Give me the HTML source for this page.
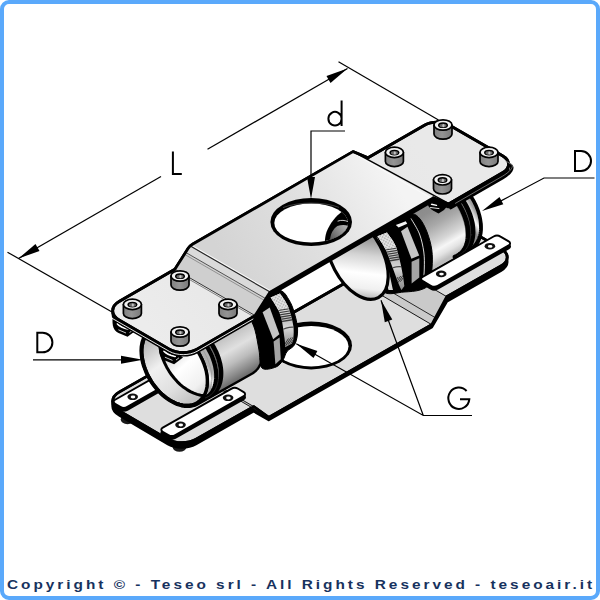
<!DOCTYPE html>
<html><head><meta charset="utf-8"><title>Teseo</title>
<style>
html,body{margin:0;padding:0;background:#fff;}
body{width:600px;height:600px;overflow:hidden;position:relative;font-family:"Liberation Sans",sans-serif;}
#frame{position:absolute;left:0;top:0;width:591.6px;height:591.6px;border-style:solid;border-color:#5aa9fb;border-width:4px 4.4px 4.4px 4px;border-radius:9px;box-sizing:content-box;}
svg{position:absolute;left:0;top:0;}
#foot{position:absolute;left:7px;top:576px;font-size:12.6px;font-weight:bold;color:#17325e;letter-spacing:2.45px;white-space:nowrap;line-height:18px;transform-origin:0 0;transform:scaleX(1.22);}
</style></head><body>
<svg width="600" height="600" viewBox="0 0 600 600">
<defs>

<linearGradient id="gPipeL" gradientUnits="userSpaceOnUse" x1="207.7" y1="295.4" x2="252.3" y2="372.4">
 <stop offset="0" stop-color="#808080"/><stop offset="0.4" stop-color="#acacac"/><stop offset="0.52" stop-color="#c6c6c6"/><stop offset="0.66" stop-color="#e0e0e0"/><stop offset="0.8" stop-color="#bcbcbc"/><stop offset="0.92" stop-color="#8c8c8c"/><stop offset="1" stop-color="#6a6a6a"/>
</linearGradient>
<linearGradient id="gPipeR" gradientUnits="userSpaceOnUse" x1="400.7" y1="182.5" x2="445.3" y2="259.5">
 <stop offset="0" stop-color="#808080"/><stop offset="0.45" stop-color="#8e8e8e"/><stop offset="0.6" stop-color="#a8a8a8"/><stop offset="0.78" stop-color="#d6d6d6"/><stop offset="0.86" stop-color="#f6f6f6"/><stop offset="0.93" stop-color="#e2e2e2"/><stop offset="1" stop-color="#bdbdbd"/>
</linearGradient>
<linearGradient id="gPlate" gradientUnits="userSpaceOnUse" x1="150" y1="330" x2="420" y2="150">
 <stop offset="0" stop-color="#ececec"/><stop offset="0.5" stop-color="#e4e4e4"/><stop offset="1" stop-color="#e9e9e9"/>
</linearGradient>
<linearGradient id="gScrew" x1="0" y1="0" x2="1" y2="0">
 <stop offset="0" stop-color="#808080"/><stop offset="0.45" stop-color="#949494"/><stop offset="1" stop-color="#7a7a7a"/>
</linearGradient>
<linearGradient id="gWall" gradientUnits="userSpaceOnUse" x1="142" y1="345" x2="190" y2="405">
 <stop offset="0" stop-color="#b8b8b8"/><stop offset="0.35" stop-color="#f0f0f0"/><stop offset="0.7" stop-color="#e0e0e0"/><stop offset="1" stop-color="#c0c0c0"/>
</linearGradient>
<linearGradient id="gBore" gradientUnits="userSpaceOnUse" x1="165" y1="350" x2="205" y2="395">
 <stop offset="0" stop-color="#c8c8c8"/><stop offset="0.4" stop-color="#ffffff"/><stop offset="0.8" stop-color="#f0f0f0"/><stop offset="1" stop-color="#d0d0d0"/>
</linearGradient>
<linearGradient id="gKnL" gradientUnits="userSpaceOnUse" x1="280" y1="293" x2="280" y2="349">
 <stop offset="0" stop-color="#e8e8e8"/><stop offset="0.27" stop-color="#dcdcdc"/><stop offset="0.5" stop-color="#c4c4c4"/><stop offset="0.62" stop-color="#d8d8d8"/><stop offset="0.76" stop-color="#b8b8b8"/><stop offset="1" stop-color="#8a8a8a"/>
</linearGradient>
<linearGradient id="gKnR" gradientUnits="userSpaceOnUse" x1="387" y1="232" x2="387" y2="290">
 <stop offset="0" stop-color="#e8e8e8"/><stop offset="0.27" stop-color="#dcdcdc"/><stop offset="0.5" stop-color="#c4c4c4"/><stop offset="0.62" stop-color="#d8d8d8"/><stop offset="0.76" stop-color="#b8b8b8"/><stop offset="1" stop-color="#8a8a8a"/>
</linearGradient>
<linearGradient id="gTube" gradientUnits="userSpaceOnUse" x1="336" y1="256" x2="386" y2="290">
 <stop offset="0" stop-color="#9c9c9c"/><stop offset="0.25" stop-color="#d4d4d4"/><stop offset="0.55" stop-color="#ffffff"/><stop offset="0.8" stop-color="#f0f0f0"/><stop offset="1" stop-color="#a8a8a8"/>
</linearGradient>
<linearGradient id="gStripR" gradientUnits="userSpaceOnUse" x1="471" y1="226" x2="481" y2="220">
 <stop offset="0" stop-color="#8a8a8a"/><stop offset="0.5" stop-color="#fafafa"/><stop offset="1" stop-color="#a0a0a0"/>
</linearGradient>
<linearGradient id="gStripL" gradientUnits="userSpaceOnUse" x1="207" y1="382" x2="215" y2="377">
 <stop offset="0" stop-color="#b0b0b0"/><stop offset="0.5" stop-color="#fafafa"/><stop offset="1" stop-color="#b0b0b0"/>
</linearGradient>
<linearGradient id="gThru" gradientUnits="userSpaceOnUse" x1="331" y1="238" x2="347" y2="226">
 <stop offset="0" stop-color="#5e5e5e"/><stop offset="1" stop-color="#b4b4b4"/>
</linearGradient>
<linearGradient id="gRaised" gradientUnits="userSpaceOnUse" x1="230" y1="270" x2="392" y2="176">
 <stop offset="0" stop-color="#d4d4d4"/><stop offset="0.5" stop-color="#e0e0e0"/><stop offset="1" stop-color="#f4f4f4"/>
</linearGradient>
<pattern id="knurl" width="2.6" height="2.6" patternUnits="userSpaceOnUse" patternTransform="rotate(28)">
 <rect width="2.6" height="2.6" fill="#e6e6e6"/><rect x="0.2" y="0.2" width="1.2" height="1.2" fill="#8e8e8e"/>
</pattern>

</defs>
<ellipse cx="127.5" cy="419.6" rx="6.8" ry="4.6" fill="#1a1a1a"/>
<ellipse cx="179.5" cy="447.2" rx="6.8" ry="4.6" fill="#1a1a1a"/>
<path d="M119.4,415.5 C110.3,410.2 110.4,401.7 119.5,396.5 L174.9,365.0 L189.9,373.7 L353.0,280.9 L368.0,255.1 L424.8,222.8 C431.6,219.0 442.4,219.0 449.1,223.0 L501.2,253.5 C509.3,258.2 509.2,265.8 501.0,270.5 L446.8,301.3 L431.8,327.1 L268.7,419.9 L253.7,411.2 L195.7,444.1 C188.0,448.5 175.6,448.4 168.0,444.0Z" stroke="#000" stroke-width="2.6" fill="#000" stroke-linejoin="round" stroke-linecap="round"/>
<path d="M119.4,410.9 C110.3,405.6 110.4,397.1 119.5,391.9 L174.9,360.4 L189.9,371.3 L353.0,278.5 L368.0,250.5 L424.8,218.2 C431.6,214.4 442.4,214.4 449.1,218.4 L501.2,248.9 C509.3,253.6 509.2,261.2 501.0,265.9 L446.8,296.7 L431.8,324.7 L268.7,417.5 L253.7,406.6 L195.7,439.5 C188.0,443.9 175.6,443.8 168.0,439.4Z" stroke="#000" stroke-width="2.8" fill="#dedede" stroke-linejoin="round" stroke-linecap="round"/>
<path d="M174.9,360.4 L253.7,406.6 L268.7,417.5 L189.9,371.3Z" stroke="#000" stroke-width="0.9" fill="#bdbdbd" stroke-linejoin="round" stroke-linecap="round"/>
<path d="M353.0,278.5 L431.8,324.7 L446.8,296.7 L368.0,250.5Z" stroke="#000" stroke-width="0.9" fill="#cacaca" stroke-linejoin="round" stroke-linecap="round"/>
<line x1="357.3" y1="272.0" x2="436.2" y2="318.2" stroke="#000" stroke-width="0.8" fill="none" stroke-linejoin="round" stroke-linecap="round"/>
<path d="M119.4,410.9 C110.3,405.6 110.4,397.1 119.5,391.9 L174.9,360.4 L189.9,371.3 L353.0,278.5 L368.0,250.5 L424.8,218.2 C431.6,214.4 442.4,214.4 449.1,218.4 L501.2,248.9 C509.3,253.6 509.2,261.2 501.0,265.9 L446.8,296.7 L431.8,324.7 L268.7,417.5 L253.7,406.6 L195.7,439.5 C188.0,443.9 175.6,443.8 168.0,439.4Z" stroke="#000" stroke-width="2.8" fill="none" stroke-linejoin="round" stroke-linecap="round"/>
<ellipse cx="311.2" cy="345.4" rx="40.8" ry="24.0" fill="#000"/>
<ellipse cx="311.2" cy="346.2" rx="37.3" ry="20.2" fill="#fff"/>
<g transform="translate(0,3.0)"><path d="M115.1,403.8 C113.2,402.7 113.2,400.9 115.1,399.8 L183.5,360.9 C185.4,359.8 188.5,359.8 190.5,360.9 L195.7,364.0 C197.6,365.1 197.6,366.9 195.6,368.0 L127.3,406.9 C125.3,408.0 122.2,408.0 120.3,406.8Z" stroke="#000" stroke-width="1.8" fill="#000" stroke-linejoin="round" stroke-linecap="round"/></g><path d="M115.1,403.8 C113.2,402.7 113.2,400.9 115.1,399.8 L183.5,360.9 C185.4,359.8 188.5,359.8 190.5,360.9 L195.7,364.0 C197.6,365.1 197.6,366.9 195.6,368.0 L127.3,406.9 C125.3,408.0 122.2,408.0 120.3,406.8Z" stroke="#000" stroke-width="1.9" fill="#fff" stroke-linejoin="round" stroke-linecap="round"/>
<ellipse cx="132.7" cy="396.8" rx="5.3" ry="3.3" fill="#111"/><ellipse cx="133.0" cy="397.0" rx="2.3" ry="1.4" fill="#fff"/>
<ellipse cx="180.2" cy="369.8" rx="5.3" ry="3.3" fill="#111"/><ellipse cx="180.5" cy="370.0" rx="2.3" ry="1.4" fill="#fff"/>
<g transform="translate(0,3.0)"><path d="M162.7,431.7 C160.8,430.6 160.8,428.8 162.8,427.7 L231.2,388.8 C233.1,387.7 236.2,387.7 238.1,388.8 L243.7,392.1 C245.6,393.3 245.6,395.0 243.7,396.1 L175.3,435.0 C173.4,436.1 170.3,436.1 168.4,435.0Z" stroke="#000" stroke-width="1.8" fill="#000" stroke-linejoin="round" stroke-linecap="round"/></g><path d="M162.7,431.7 C160.8,430.6 160.8,428.8 162.8,427.7 L231.2,388.8 C233.1,387.7 236.2,387.7 238.1,388.8 L243.7,392.1 C245.6,393.3 245.6,395.0 243.7,396.1 L175.3,435.0 C173.4,436.1 170.3,436.1 168.4,435.0Z" stroke="#000" stroke-width="1.9" fill="#fff" stroke-linejoin="round" stroke-linecap="round"/>
<ellipse cx="180.5" cy="424.8" rx="5.3" ry="3.3" fill="#111"/><ellipse cx="180.8" cy="425.0" rx="2.3" ry="1.4" fill="#fff"/>
<ellipse cx="228.1" cy="397.8" rx="5.3" ry="3.3" fill="#111"/><ellipse cx="228.4" cy="398.0" rx="2.3" ry="1.4" fill="#fff"/>
<g transform="translate(0,3.0)"><path d="M375.8,253.5 C373.9,252.4 373.9,250.6 375.8,249.5 L445.9,209.6 C447.8,208.5 450.9,208.5 452.9,209.7 L459.8,213.7 C461.7,214.8 461.7,216.6 459.8,217.7 L389.7,257.6 C387.7,258.7 384.6,258.7 382.7,257.6Z" stroke="#000" stroke-width="1.8" fill="#000" stroke-linejoin="round" stroke-linecap="round"/></g><path d="M375.8,253.5 C373.9,252.4 373.9,250.6 375.8,249.5 L445.9,209.6 C447.8,208.5 450.9,208.5 452.9,209.7 L459.8,213.7 C461.7,214.8 461.7,216.6 459.8,217.7 L389.7,257.6 C387.7,258.7 384.6,258.7 382.7,257.6Z" stroke="#000" stroke-width="1.9" fill="#fff" stroke-linejoin="round" stroke-linecap="round"/>
<ellipse cx="393.9" cy="246.2" rx="5.3" ry="3.3" fill="#111"/><ellipse cx="394.2" cy="246.4" rx="2.3" ry="1.4" fill="#fff"/>
<ellipse cx="442.6" cy="218.5" rx="5.3" ry="3.3" fill="#111"/><ellipse cx="442.9" cy="218.7" rx="2.3" ry="1.4" fill="#fff"/>
<clipPath id="cRP"><path d="M0.0,517.9 L600.0,176.6 L600.0,0.0 L0.0,0.0Z" /></clipPath>
<g clip-path="url(#cRP)">
<path d="M422.4,277.5 L421.2,278.3 L419.8,278.9 L418.4,279.5 L416.9,279.9 L415.4,280.2 L413.8,280.4 L412.2,280.5 L410.6,280.5 L408.9,280.4 L407.2,280.1 L405.5,279.8 L403.7,279.3 L402.0,278.8 L400.2,278.1 L398.4,277.3 L396.6,276.5 L394.9,275.5 L393.1,274.4 L391.4,273.2 L389.6,272.0 L387.9,270.6 L386.3,269.2 L384.6,267.7 L383.0,266.1 L381.5,264.5 L380.0,262.7 L378.5,260.9 L377.1,259.1 L375.8,257.2 L374.5,255.2 L373.3,253.3 L372.1,251.2 L371.0,249.2 L370.0,247.1 L369.1,245.0 L368.3,242.9 L367.5,240.8 L366.9,238.6 L366.3,236.5 L365.8,234.4 L365.4,232.3 L365.1,230.2 L364.8,228.2 L364.7,226.2 L364.7,224.2 L364.7,222.3 L364.9,220.4 L365.1,218.5 L365.5,216.8 L365.9,215.1 L366.4,213.4 L367.0,211.8 L367.7,210.3 L368.5,208.9 L369.3,207.6 L370.3,206.4 L371.3,205.2 L372.4,204.2 L373.5,203.2 L374.8,202.4 L424.0,174.6 L425.2,173.9 L426.6,173.2 L428.0,172.7 L429.5,172.3 L431.0,171.9 L432.6,171.7 L434.2,171.6 L435.8,171.6 L437.5,171.8 L439.2,172.0 L440.9,172.3 L442.7,172.8 L444.4,173.4 L446.2,174.0 L448.0,174.8 L449.8,175.7 L451.5,176.6 L453.3,177.7 L455.0,178.9 L456.8,180.1 L458.5,181.5 L460.1,182.9 L461.8,184.4 L463.4,186.0 L464.9,187.7 L466.4,189.4 L467.9,191.2 L469.3,193.0 L470.6,194.9 L471.9,196.9 L473.1,198.9 L474.3,200.9 L475.4,203.0 L476.4,205.0 L477.3,207.1 L478.1,209.2 L478.9,211.4 L479.5,213.5 L480.1,215.6 L480.6,217.7 L481.0,219.8 L481.3,221.9 L481.6,223.9 L481.7,226.0 L481.7,227.9 L481.7,229.9 L481.5,231.8 L481.3,233.6 L480.9,235.4 L480.5,237.1 L480.0,238.7 L479.4,240.3 L478.7,241.8 L477.9,243.2 L477.1,244.5 L476.1,245.8 L475.1,246.9 L474.0,248.0 L472.9,248.9 L471.6,249.8Z" stroke="#000" stroke-width="2.4" fill="url(#gPipeR)" stroke-linejoin="round" stroke-linecap="round"/>
<path d="M455.8,257.0 L457.0,256.1 L458.2,255.2 L459.2,254.2 L460.2,253.1 L461.1,251.9 L461.9,250.6 L462.7,249.2 L463.3,247.8 L463.9,246.3 L464.4,244.7 L464.8,243.0 L465.1,241.3 L465.4,239.6 L465.5,237.7 L465.6,235.9 L465.5,234.0 L465.4,232.0 L465.2,230.0 L464.9,228.0 L464.5,226.0 L464.0,224.0 L463.5,221.9 L462.8,219.9 L462.1,217.8 L461.3,215.8 L460.4,213.7 L459.4,211.7 L458.4,209.7 L457.3,207.8 L456.1,205.9 L454.9,204.0 L453.6,202.1 L452.2,200.4 L450.8,198.6 L449.3,197.0 L447.8,195.4 L446.3,193.8 L444.7,192.4 L443.1,191.0 L441.5,189.7 L439.8,188.5 L438.1,187.3 L436.4,186.3 L434.7,185.4 L433.0,184.5 L431.3,183.8 L429.6,183.1 L427.9,182.6 L426.2,182.1 L424.5,181.8 L422.9,181.6 L421.2,181.5 L419.6,181.5 L418.1,181.6 L416.6,181.8 L415.1,182.1 L413.7,182.5 L412.3,183.0 L411.0,183.6 L409.8,184.3 L423.3,176.7 L424.5,176.0 L425.8,175.4 L427.2,174.9 L428.6,174.5 L430.1,174.1 L431.6,173.9 L433.1,173.8 L434.7,173.9 L436.4,174.0 L438.0,174.2 L439.7,174.5 L441.4,175.0 L443.1,175.5 L444.8,176.2 L446.5,176.9 L448.2,177.8 L449.9,178.7 L451.6,179.7 L453.3,180.9 L455.0,182.1 L456.6,183.4 L458.2,184.8 L459.8,186.2 L461.3,187.8 L462.8,189.4 L464.3,191.0 L465.7,192.8 L467.1,194.5 L468.4,196.4 L469.6,198.2 L470.8,200.2 L471.9,202.1 L472.9,204.1 L473.9,206.1 L474.8,208.2 L475.6,210.2 L476.3,212.2 L477.0,214.3 L477.5,216.3 L478.0,218.4 L478.4,220.4 L478.7,222.4 L478.9,224.4 L479.0,226.3 L479.1,228.3 L479.0,230.1 L478.9,231.9 L478.6,233.7 L478.3,235.4 L477.9,237.1 L477.4,238.7 L476.8,240.2 L476.2,241.6 L475.4,243.0 L474.6,244.3 L473.7,245.5 L472.7,246.6 L471.7,247.6 L470.5,248.5 L469.3,249.3Z" fill="url(#gStripR)" stroke="none"/>
<path d="M455.1,257.1 L456.5,256.5 L457.9,255.8 L459.3,255.0 L460.5,254.0 L461.7,252.9 L462.8,251.7 L463.7,250.4 L464.6,249.0 L465.5,247.5 L466.2,246.0 L466.8,244.3 L467.3,242.5 L467.7,240.7 L468.0,238.8 L468.2,236.8 L468.3,234.8 L468.2,232.7 L468.1,230.6 L467.9,228.5 L467.6,226.3 L467.1,224.1 L466.6,221.8 L465.9,219.6 L465.2,217.4 L464.3,215.1 L463.4,212.9 L462.4,210.7 L461.3,208.6 L460.1,206.4 L458.8,204.3 L457.5,202.3 L456.0,200.3 L454.5,198.4 L453.0,196.5 L451.4,194.7 L449.7,193.0 L448.0,191.4 L446.3,189.9 L444.5,188.4 L442.7,187.1 L440.8,185.8 L439.0,184.7 L437.1,183.7 L435.3,182.8 L433.4,182.0 L431.5,181.4 L429.7,180.8 L427.9,180.4 L426.1,180.1 L424.3,180.0 L422.6,179.9 L420.9,180.0 L419.2,180.2 L417.6,180.6 L416.1,181.1 L414.6,181.7 L413.2,182.4 L411.9,183.2 L410.6,184.2 L409.4,185.2" stroke="#000" stroke-width="4.9" fill="none" stroke-linejoin="round" stroke-linecap="round"/>
<path d="M459.8,254.5 L461.2,253.9 L462.6,253.2 L464.0,252.3 L465.2,251.3 L466.4,250.3 L467.5,249.1 L468.4,247.8 L469.3,246.4 L470.2,244.9 L470.9,243.3 L471.5,241.6 L472.0,239.9 L472.4,238.0 L472.7,236.1 L472.9,234.2 L473.0,232.2 L472.9,230.1 L472.8,228.0 L472.6,225.8 L472.3,223.6 L471.8,221.4 L471.3,219.2 L470.6,217.0 L469.9,214.7 L469.0,212.5 L468.1,210.3 L467.1,208.1 L466.0,205.9 L464.8,203.8 L463.5,201.7 L462.2,199.6 L460.7,197.7 L459.2,195.7 L457.7,193.9 L456.1,192.1 L454.4,190.4 L452.7,188.7 L451.0,187.2 L449.2,185.8 L447.4,184.4 L445.5,183.2 L443.7,182.1 L441.8,181.1 L440.0,180.2 L438.1,179.4 L436.2,178.7 L434.4,178.2 L432.6,177.8 L430.8,177.5 L429.0,177.3 L427.3,177.3 L425.6,177.4 L423.9,177.6 L422.3,177.9 L420.8,178.4 L419.3,179.0 L417.9,179.7 L416.6,180.6 L415.3,181.5 L414.1,182.6" stroke="#000" stroke-width="4.9" fill="none" stroke-linejoin="round" stroke-linecap="round"/>
<path d="M457.5,255.8 L458.9,255.2 L460.3,254.4 L461.7,253.6 L462.9,252.6 L464.1,251.6 L465.2,250.4 L466.1,249.1 L467.0,247.7 L467.9,246.2 L468.6,244.6 L469.2,242.9 L469.7,241.2 L470.1,239.3 L470.4,237.4 L470.6,235.5 L470.7,233.5 L470.6,231.4 L470.5,229.3 L470.3,227.1 L470.0,224.9 L469.5,222.7 L469.0,220.5 L468.3,218.3 L467.6,216.0 L466.7,213.8 L465.8,211.6 L464.8,209.4 L463.7,207.2 L462.5,205.1 L461.2,203.0 L459.9,200.9 L458.4,199.0 L456.9,197.0 L455.4,195.2 L453.8,193.4 L452.1,191.7 L450.4,190.0 L448.7,188.5 L446.9,187.1 L445.1,185.7 L443.2,184.5 L441.4,183.4 L439.5,182.4 L437.7,181.5 L435.8,180.7 L433.9,180.0 L432.1,179.5 L430.3,179.1 L428.5,178.8 L426.7,178.6 L425.0,178.6 L423.3,178.7 L421.6,178.9 L420.0,179.2 L418.5,179.7 L417.0,180.3 L415.6,181.0 L414.3,181.9 L413.0,182.8 L411.8,183.9" stroke="#3a3a3a" stroke-width="0.6" fill="none" stroke-linejoin="round" stroke-linecap="round"/>
<path d="M467.4,250.2 L468.8,249.6 L470.2,248.9 L471.6,248.0 L472.8,247.1 L474.0,246.0 L475.1,244.8 L476.0,243.5 L476.9,242.1 L477.8,240.6 L478.5,239.0 L479.1,237.3 L479.6,235.6 L480.0,233.8 L480.3,231.9 L480.5,229.9 L480.6,227.9 L480.5,225.8 L480.4,223.7 L480.2,221.5 L479.9,219.3 L479.4,217.1 L478.9,214.9 L478.2,212.7 L477.5,210.4 L476.6,208.2 L475.7,206.0 L474.7,203.8 L473.6,201.6 L472.4,199.5 L471.1,197.4 L469.8,195.4 L468.3,193.4 L466.8,191.4 L465.3,189.6 L463.7,187.8 L462.0,186.1 L460.3,184.5 L458.6,182.9 L456.8,181.5 L455.0,180.1 L453.1,178.9 L451.3,177.8 L449.4,176.8 L447.6,175.9 L445.7,175.1 L443.8,174.4 L442.0,173.9 L440.2,173.5 L438.4,173.2 L436.6,173.0 L434.9,173.0 L433.2,173.1 L431.5,173.3 L429.9,173.7 L428.4,174.1 L426.9,174.7 L425.5,175.4 L424.2,176.3 L422.9,177.2 L421.7,178.3" stroke="#000" stroke-width="3.0" fill="none" stroke-linejoin="round" stroke-linecap="round"/>
</g>
<path d="M198.4,403.9 L197.1,404.6 L195.8,405.3 L194.3,405.8 L192.9,406.2 L191.4,406.6 L189.8,406.8 L188.2,406.9 L186.5,406.9 L184.9,406.7 L183.2,406.5 L181.4,406.2 L179.7,405.7 L177.9,405.1 L176.1,404.5 L174.4,403.7 L172.6,402.8 L170.8,401.8 L169.1,400.8 L167.3,399.6 L165.6,398.3 L163.9,397.0 L162.2,395.6 L160.6,394.1 L159.0,392.5 L157.4,390.8 L155.9,389.1 L154.5,387.3 L153.1,385.5 L151.7,383.6 L150.4,381.6 L149.2,379.6 L148.1,377.6 L147.0,375.5 L146.0,373.5 L145.1,371.4 L144.3,369.2 L143.5,367.1 L142.8,365.0 L142.2,362.9 L141.7,360.8 L141.3,358.7 L141.0,356.6 L140.8,354.5 L140.7,352.5 L140.6,350.6 L140.7,348.6 L140.8,346.7 L141.1,344.9 L141.4,343.1 L141.8,341.4 L142.4,339.8 L143.0,338.2 L143.7,336.7 L144.4,335.3 L145.3,334.0 L146.2,332.7 L147.2,331.6 L148.3,330.5 L149.5,329.6 L150.7,328.7 L205.2,298.0 L206.4,297.3 L207.8,296.6 L209.2,296.1 L210.7,295.7 L212.2,295.3 L213.8,295.1 L215.4,295.0 L217.0,295.0 L218.7,295.2 L220.4,295.4 L222.1,295.7 L223.9,296.2 L225.6,296.8 L227.4,297.4 L229.2,298.2 L231.0,299.1 L232.7,300.1 L234.5,301.1 L236.2,302.3 L238.0,303.6 L239.7,304.9 L241.3,306.3 L243.0,307.8 L244.6,309.4 L246.1,311.1 L247.6,312.8 L249.1,314.6 L250.5,316.4 L251.8,318.3 L253.1,320.3 L254.3,322.3 L255.5,324.3 L256.6,326.4 L257.6,328.4 L258.5,330.5 L259.3,332.7 L260.1,334.8 L260.7,336.9 L261.3,339.0 L261.8,341.1 L262.2,343.2 L262.5,345.3 L262.8,347.3 L262.9,349.4 L262.9,351.3 L262.9,353.3 L262.7,355.2 L262.5,357.0 L262.1,358.8 L261.7,360.5 L261.2,362.1 L260.6,363.7 L259.9,365.2 L259.1,366.6 L258.3,367.9 L257.3,369.2 L256.3,370.3 L255.2,371.4 L254.1,372.3 L252.8,373.2Z" stroke="#000" stroke-width="2.4" fill="url(#gPipeL)" stroke-linejoin="round" stroke-linecap="round"/>
<path d="M197.6,402.6 L198.8,401.8 L199.9,400.9 L201.0,399.8 L201.9,398.7 L202.8,397.5 L203.7,396.3 L204.4,394.9 L205.1,393.5 L205.7,391.9 L206.2,390.3 L206.6,388.7 L206.9,387.0 L207.1,385.2 L207.3,383.4 L207.3,381.5 L207.3,379.6 L207.2,377.7 L207.0,375.7 L206.7,373.7 L206.3,371.6 L205.8,369.6 L205.2,367.6 L204.6,365.5 L203.8,363.5 L203.0,361.4 L202.1,359.4 L201.2,357.4 L200.1,355.4 L199.0,353.4 L197.9,351.5 L196.6,349.6 L195.3,347.8 L194.0,346.0 L192.6,344.3 L191.1,342.6 L189.6,341.0 L188.1,339.5 L186.5,338.0 L184.9,336.6 L183.2,335.3 L181.6,334.1 L179.9,333.0 L178.2,332.0 L176.5,331.0 L174.7,330.2 L173.0,329.4 L171.3,328.8 L169.6,328.2 L167.9,327.8 L166.3,327.5 L164.6,327.2 L163.0,327.1 L161.4,327.1 L159.8,327.2 L158.3,327.4 L156.9,327.7 L155.4,328.1 L154.1,328.6 L152.8,329.3 L151.5,330.0 L166.5,321.5 L167.8,320.8 L169.1,320.2 L170.4,319.7 L171.9,319.3 L173.3,318.9 L174.8,318.7 L176.4,318.6 L178.0,318.7 L179.6,318.8 L181.3,319.0 L182.9,319.3 L184.6,319.8 L186.3,320.3 L188.0,321.0 L189.7,321.7 L191.5,322.6 L193.2,323.5 L194.9,324.5 L196.6,325.7 L198.2,326.9 L199.9,328.2 L201.5,329.6 L203.1,331.0 L204.6,332.6 L206.1,334.2 L207.6,335.8 L209.0,337.6 L210.3,339.3 L211.6,341.2 L212.9,343.1 L214.0,345.0 L215.1,346.9 L216.2,348.9 L217.1,350.9 L218.0,353.0 L218.8,355.0 L219.6,357.0 L220.2,359.1 L220.8,361.1 L221.3,363.2 L221.7,365.2 L222.0,367.2 L222.2,369.2 L222.3,371.1 L222.3,373.1 L222.3,374.9 L222.1,376.7 L221.9,378.5 L221.6,380.2 L221.2,381.9 L220.7,383.5 L220.1,385.0 L219.4,386.4 L218.7,387.8 L217.8,389.1 L216.9,390.3 L216.0,391.4 L214.9,392.4 L213.8,393.3 L212.6,394.1Z" fill="url(#gStripL)" stroke="none"/>
<path d="M198.6,401.8 L200.1,401.2 L201.5,400.4 L202.8,399.6 L204.1,398.6 L205.2,397.5 L206.3,396.4 L207.3,395.1 L208.2,393.7 L209.0,392.2 L209.7,390.6 L210.3,388.9 L210.8,387.2 L211.2,385.3 L211.5,383.4 L211.7,381.5 L211.8,379.4 L211.8,377.4 L211.7,375.2 L211.5,373.1 L211.1,370.9 L210.7,368.7 L210.1,366.5 L209.5,364.2 L208.7,362.0 L207.9,359.8 L207.0,357.6 L205.9,355.4 L204.8,353.2 L203.6,351.1 L202.4,349.0 L201.0,346.9 L199.6,344.9 L198.1,343.0 L196.6,341.1 L194.9,339.4 L193.3,337.7 L191.6,336.0 L189.8,334.5 L188.1,333.1 L186.2,331.7 L184.4,330.5 L182.6,329.4 L180.7,328.3 L178.8,327.4 L177.0,326.7 L175.1,326.0 L173.3,325.5 L171.4,325.0 L169.6,324.8 L167.8,324.6 L166.1,324.6 L164.4,324.7 L162.8,324.9 L161.2,325.2 L159.6,325.7 L158.2,326.3 L156.8,327.0 L155.4,327.8 L154.2,328.8 L153.0,329.9" stroke="#999" stroke-width="0.8" fill="none" stroke-linejoin="round" stroke-linecap="round"/>
<path d="M203.1,399.2 L204.6,398.6 L206.0,397.9 L207.3,397.0 L208.6,396.1 L209.7,395.0 L210.8,393.8 L211.8,392.5 L212.7,391.1 L213.5,389.6 L214.2,388.0 L214.8,386.4 L215.3,384.6 L215.7,382.8 L216.0,380.9 L216.2,378.9 L216.3,376.9 L216.3,374.8 L216.2,372.7 L216.0,370.6 L215.6,368.4 L215.2,366.2 L214.6,363.9 L214.0,361.7 L213.2,359.5 L212.4,357.2 L211.5,355.0 L210.4,352.8 L209.3,350.7 L208.1,348.5 L206.9,346.4 L205.5,344.4 L204.1,342.4 L202.6,340.5 L201.1,338.6 L199.4,336.8 L197.8,335.1 L196.1,333.5 L194.3,332.0 L192.6,330.5 L190.7,329.2 L188.9,327.9 L187.1,326.8 L185.2,325.8 L183.3,324.9 L181.5,324.1 L179.6,323.5 L177.8,322.9 L175.9,322.5 L174.1,322.2 L172.3,322.1 L170.6,322.0 L168.9,322.1 L167.3,322.3 L165.7,322.7 L164.1,323.2 L162.7,323.8 L161.3,324.5 L159.9,325.3 L158.7,326.3 L157.5,327.3" stroke="#000" stroke-width="4.3" fill="none" stroke-linejoin="round" stroke-linecap="round"/>
<path d="M207.8,396.6 L209.3,396.0 L210.7,395.2 L212.0,394.4 L213.3,393.4 L214.4,392.4 L215.5,391.2 L216.5,389.9 L217.4,388.5 L218.2,387.0 L218.9,385.4 L219.5,383.7 L220.0,382.0 L220.4,380.1 L220.7,378.2 L220.9,376.3 L221.0,374.2 L221.0,372.2 L220.9,370.1 L220.7,367.9 L220.3,365.7 L219.9,363.5 L219.3,361.3 L218.7,359.1 L217.9,356.8 L217.1,354.6 L216.2,352.4 L215.1,350.2 L214.0,348.0 L212.8,345.9 L211.6,343.8 L210.2,341.7 L208.8,339.7 L207.3,337.8 L205.8,336.0 L204.1,334.2 L202.5,332.5 L200.8,330.8 L199.0,329.3 L197.3,327.9 L195.4,326.5 L193.6,325.3 L191.8,324.2 L189.9,323.2 L188.0,322.3 L186.2,321.5 L184.3,320.8 L182.5,320.3 L180.6,319.9 L178.8,319.6 L177.0,319.4 L175.3,319.4 L173.6,319.5 L172.0,319.7 L170.4,320.0 L168.8,320.5 L167.4,321.1 L166.0,321.8 L164.6,322.7 L163.4,323.6 L162.2,324.7" stroke="#000" stroke-width="4.7" fill="none" stroke-linejoin="round" stroke-linecap="round"/>
<path d="M205.4,397.9 L206.9,397.3 L208.3,396.6 L209.6,395.8 L210.9,394.8 L212.0,393.7 L213.1,392.5 L214.1,391.2 L215.0,389.8 L215.8,388.3 L216.5,386.7 L217.1,385.1 L217.6,383.3 L218.0,381.5 L218.3,379.6 L218.5,377.6 L218.6,375.6 L218.6,373.5 L218.5,371.4 L218.3,369.3 L217.9,367.1 L217.5,364.9 L216.9,362.6 L216.3,360.4 L215.5,358.2 L214.7,355.9 L213.8,353.7 L212.7,351.5 L211.6,349.4 L210.4,347.2 L209.2,345.1 L207.8,343.1 L206.4,341.1 L204.9,339.2 L203.4,337.3 L201.7,335.5 L200.1,333.8 L198.4,332.2 L196.6,330.7 L194.9,329.2 L193.0,327.9 L191.2,326.6 L189.4,325.5 L187.5,324.5 L185.6,323.6 L183.8,322.8 L181.9,322.2 L180.1,321.6 L178.2,321.2 L176.4,320.9 L174.6,320.8 L172.9,320.7 L171.2,320.8 L169.6,321.0 L168.0,321.4 L166.4,321.9 L165.0,322.5 L163.6,323.2 L162.2,324.0 L161.0,325.0 L159.8,326.0" stroke="#3a3a3a" stroke-width="0.6" fill="none" stroke-linejoin="round" stroke-linecap="round"/>
<clipPath id="cFront"><path d="M197.6,402.6 L199.9,400.9 L201.9,398.7 L203.7,396.3 L205.1,393.5 L206.2,390.3 L206.9,387.0 L207.3,383.4 L207.3,379.6 L207.0,375.7 L206.3,371.6 L205.2,367.6 L203.8,363.5 L202.1,359.4 L200.1,355.4 L197.9,351.5 L195.3,347.8 L192.6,344.3 L189.6,341.0 L186.5,338.0 L183.2,335.3 L179.9,333.0 L176.5,331.0 L173.0,329.4 L169.6,328.2 L166.3,327.5 L163.0,327.1 L159.8,327.2 L156.9,327.7 L154.1,328.6 L151.5,330.0 L149.2,331.7 L147.2,333.9 L145.4,336.3 L144.0,339.1 L143.0,342.3 L142.2,345.6 L141.8,349.2 L141.8,353.0 L142.2,356.9 L142.9,361.0 L143.9,365.0 L145.3,369.1 L147.0,373.2 L149.0,377.2 L151.3,381.1 L153.8,384.8 L156.6,388.3 L159.5,391.6 L162.6,394.6 L165.9,397.3 L169.3,399.6 L172.7,401.6 L176.1,403.2 L179.5,404.4 L182.9,405.1 L186.1,405.5 L189.3,405.4 L192.3,404.9 L195.0,404.0 L197.6,402.6Z" /></clipPath>
<path d="M197.6,402.6 L199.9,400.9 L201.9,398.7 L203.7,396.3 L205.1,393.5 L206.2,390.3 L206.9,387.0 L207.3,383.4 L207.3,379.6 L207.0,375.7 L206.3,371.6 L205.2,367.6 L203.8,363.5 L202.1,359.4 L200.1,355.4 L197.9,351.5 L195.3,347.8 L192.6,344.3 L189.6,341.0 L186.5,338.0 L183.2,335.3 L179.9,333.0 L176.5,331.0 L173.0,329.4 L169.6,328.2 L166.3,327.5 L163.0,327.1 L159.8,327.2 L156.9,327.7 L154.1,328.6 L151.5,330.0 L149.2,331.7 L147.2,333.9 L145.4,336.3 L144.0,339.1 L143.0,342.3 L142.2,345.6 L141.8,349.2 L141.8,353.0 L142.2,356.9 L142.9,361.0 L143.9,365.0 L145.3,369.1 L147.0,373.2 L149.0,377.2 L151.3,381.1 L153.8,384.8 L156.6,388.3 L159.5,391.6 L162.6,394.6 L165.9,397.3 L169.3,399.6 L172.7,401.6 L176.1,403.2 L179.5,404.4 L182.9,405.1 L186.1,405.5 L189.3,405.4 L192.3,404.9 L195.0,404.0 L197.6,402.6Z" stroke="#000" stroke-width="3.3" fill="url(#gWall)" stroke-linejoin="round" stroke-linecap="round"/>
<g clip-path="url(#cFront)"><path d="M215.3,392.6 L217.6,390.9 L219.6,388.8 L221.4,386.3 L222.8,383.5 L223.9,380.4 L224.6,377.0 L225.0,373.4 L225.0,369.6 L224.7,365.7 L224.0,361.7 L222.9,357.6 L221.5,353.5 L219.8,349.4 L217.8,345.4 L215.6,341.5 L213.0,337.8 L210.3,334.3 L207.3,331.0 L204.2,328.0 L200.9,325.4 L197.6,323.0 L194.2,321.0 L190.7,319.4 L187.3,318.3 L184.0,317.5 L180.7,317.1 L177.5,317.2 L174.6,317.7 L171.8,318.7 L169.2,320.0 L166.9,321.8 L164.9,323.9 L163.1,326.4 L161.7,329.2 L160.7,332.3 L159.9,335.6 L159.5,339.2 L159.5,343.0 L159.9,346.9 L160.6,351.0 L161.6,355.1 L163.0,359.2 L164.7,363.2 L166.7,367.2 L169.0,371.1 L171.5,374.8 L174.3,378.3 L177.2,381.6 L180.3,384.6 L183.6,387.3 L187.0,389.6 L190.4,391.6 L193.8,393.2 L197.2,394.4 L200.6,395.2 L203.8,395.5 L207.0,395.4 L210.0,394.9 L212.7,394.0 L215.3,392.6Z" stroke="#000" stroke-width="3.0" fill="url(#gBore)" stroke-linejoin="round" stroke-linecap="round"/></g>
<path d="M197.6,402.6 L199.9,400.9 L201.9,398.7 L203.7,396.3 L205.1,393.5 L206.2,390.3 L206.9,387.0 L207.3,383.4 L207.3,379.6 L207.0,375.7 L206.3,371.6 L205.2,367.6 L203.8,363.5 L202.1,359.4 L200.1,355.4 L197.9,351.5 L195.3,347.8 L192.6,344.3 L189.6,341.0 L186.5,338.0 L183.2,335.3 L179.9,333.0 L176.5,331.0 L173.0,329.4 L169.6,328.2 L166.3,327.5 L163.0,327.1 L159.8,327.2 L156.9,327.7 L154.1,328.6 L151.5,330.0 L149.2,331.7 L147.2,333.9 L145.4,336.3 L144.0,339.1 L143.0,342.3 L142.2,345.6 L141.8,349.2 L141.8,353.0 L142.2,356.9 L142.9,361.0 L143.9,365.0 L145.3,369.1 L147.0,373.2 L149.0,377.2 L151.3,381.1 L153.8,384.8 L156.6,388.3 L159.5,391.6 L162.6,394.6 L165.9,397.3 L169.3,399.6 L172.7,401.6 L176.1,403.2 L179.5,404.4 L182.9,405.1 L186.1,405.5 L189.3,405.4 L192.3,404.9 L195.0,404.0 L197.6,402.6Z" stroke="#000" stroke-width="3.3" fill="none" stroke-linejoin="round" stroke-linecap="round"/>
<path d="M250.0,318.0 C252.7,313.0 260.7,292.5 266.0,288.0 C271.3,283.5 277.9,289.0 281.7,291.0 C285.5,293.0 286.9,296.6 289.0,300.0 C291.1,303.4 292.6,306.9 294.0,311.7 C295.4,316.5 297.4,323.6 297.6,329.0 C297.8,334.4 296.8,340.2 295.0,344.0 C293.2,347.8 289.0,348.8 287.0,351.5 C285.0,354.2 284.8,357.4 283.0,360.0 C281.2,362.6 279.5,365.7 276.0,367.0 C272.5,368.3 264.8,370.8 262.0,368.0 C259.2,365.2 260.2,356.3 259.0,350.0 C257.8,343.7 256.5,335.3 255.0,330.0 C253.5,324.7 250.8,320.0 250.0,318.0" fill="#000" stroke="#000" stroke-width="1" stroke-linejoin="round"/>
<path d="M262.6,312.2 L269.7,307.6 L279.4,334.3 L273.2,339.2Z" fill="#c6c6c6"/>
<path d="M273.6,341.6 L279.6,337.6 L280.8,359.2 L275.4,364.2Z" fill="#a4a4a4"/>
<path d="M270.6,297.4 C271.8,299.3 275.8,305.1 277.7,309.0 C279.6,312.9 280.8,316.1 281.9,321.0 C283.0,325.9 283.9,333.9 284.5,338.3 C285.1,342.7 285.1,345.7 285.2,347.2 L292.0,343.4 C292.2,342.5 293.2,341.4 293.4,338.3 C293.6,335.2 294.1,330.3 293.2,325.0 C292.3,319.7 290.2,311.6 288.0,306.3 C285.8,301.0 281.3,295.5 280.0,293.4Z" fill="url(#gKnL)"/>
<clipPath id="cKL"><path d="M270.6,297.4 C271.8,299.3 275.8,305.1 277.7,309.0 C279.6,312.9 280.8,316.1 281.9,321.0 C283.0,325.9 283.9,333.9 284.5,338.3 C285.1,342.7 285.1,345.7 285.2,347.2 L292.0,343.4 C292.2,342.5 293.2,341.4 293.4,338.3 C293.6,335.2 294.1,330.3 293.2,325.0 C292.3,319.7 290.2,311.6 288.0,306.3 C285.8,301.0 281.3,295.5 280.0,293.4Z" /></clipPath>
<g clip-path="url(#cKL)"><g transform="translate(0,0)"><rect x="262" y="286" width="40" height="24" fill="url(#knurl)"/><line x1="266.0" y1="312.5" x2="300.0" y2="307.0" stroke="#3c3c3c" stroke-width="1.0"/><line x1="266.0" y1="314.8" x2="300.0" y2="309.3" stroke="#3c3c3c" stroke-width="1.08"/><line x1="266.0" y1="317.1" x2="300.0" y2="311.6" stroke="#3c3c3c" stroke-width="1.16"/><line x1="266.0" y1="319.4" x2="300.0" y2="313.9" stroke="#3c3c3c" stroke-width="1.24"/><line x1="266.0" y1="321.7" x2="300.0" y2="316.2" stroke="#3c3c3c" stroke-width="1.32"/><line x1="266.0" y1="324.0" x2="300.0" y2="318.5" stroke="#3c3c3c" stroke-width="1.4"/><path d="M280,331 Q288,326 296,327.5" stroke="#4a4a4a" stroke-width="1.1" fill="none"/><line x1="283.0" y1="347.0" x2="288.5" y2="338.5" stroke="#3a3a3a" stroke-width="1.0"/><line x1="285.6" y1="345.8" x2="291.1" y2="337.5" stroke="#3a3a3a" stroke-width="1.0"/><line x1="288.2" y1="344.6" x2="293.7" y2="336.5" stroke="#3a3a3a" stroke-width="1.0"/><line x1="290.8" y1="343.4" x2="296.3" y2="335.5" stroke="#3a3a3a" stroke-width="1.0"/><line x1="293.4" y1="342.2" x2="298.9" y2="334.5" stroke="#3a3a3a" stroke-width="1.0"/></g></g>
<path d="M371.0,238.0 C373.3,236.7 380.2,232.8 385.0,230.0 C389.8,227.2 395.5,223.7 400.0,221.0 C404.5,218.3 408.7,214.3 412.0,214.0 C415.3,213.7 417.5,216.0 420.0,219.0 C422.5,222.0 425.0,226.8 427.0,232.0 C429.0,237.2 431.0,244.0 431.8,250.0 C432.6,256.0 432.5,262.3 432.0,268.0 C431.5,273.7 431.0,280.3 429.0,284.0 C427.0,287.7 424.2,288.7 420.0,290.0 C415.8,291.3 410.0,291.7 404.0,292.0 C398.0,292.3 388.3,295.7 384.0,292.0 C379.7,288.3 380.2,279.0 378.0,270.0 C375.8,261.0 372.2,243.3 371.0,238.0" fill="#000" stroke="#000" stroke-width="1" stroke-linejoin="round"/>
<path d="M373.5,238.5 C374.4,240.8 377.2,246.8 379.0,252.0 C380.8,257.2 382.4,263.7 384.0,270.0 C385.6,276.3 387.8,286.7 388.5,290.0 L393.0,290.0 C392.2,286.7 390.2,276.5 388.5,270.0 C386.8,263.5 384.9,256.5 383.0,251.0 C381.1,245.5 378.0,239.3 377.0,237.0Z" fill="#d8d8d8"/>
<path d="M377.4,236.2 C378.8,238.4 383.3,244.8 385.6,249.5 C387.9,254.2 389.2,258.8 391.4,264.5 C393.6,270.2 397.0,279.8 398.7,284.0 C400.4,288.2 401.0,289.0 401.5,290.0 L404.4,286.0 C404.1,284.2 403.6,279.3 402.8,275.0 C402.0,270.7 401.0,265.0 399.7,260.0 C398.4,255.0 397.3,249.6 395.2,245.0 C393.1,240.4 388.4,234.7 387.0,232.6Z" fill="url(#gKnR)"/>
<clipPath id="cKR"><path d="M377.4,236.2 C378.8,238.4 383.3,244.8 385.6,249.5 C387.9,254.2 389.2,258.8 391.4,264.5 C393.6,270.2 397.0,279.8 398.7,284.0 C400.4,288.2 401.0,289.0 401.5,290.0 L404.4,286.0 C404.1,284.2 403.6,279.3 402.8,275.0 C402.0,270.7 401.0,265.0 399.7,260.0 C398.4,255.0 397.3,249.6 395.2,245.0 C393.1,240.4 388.4,234.7 387.0,232.6Z" /></clipPath>
<g clip-path="url(#cKR)"><g transform="translate(107,-60.5)"><rect x="262" y="286" width="40" height="24" fill="url(#knurl)"/><line x1="266.0" y1="312.5" x2="300.0" y2="307.0" stroke="#3c3c3c" stroke-width="1.0"/><line x1="266.0" y1="314.8" x2="300.0" y2="309.3" stroke="#3c3c3c" stroke-width="1.08"/><line x1="266.0" y1="317.1" x2="300.0" y2="311.6" stroke="#3c3c3c" stroke-width="1.16"/><line x1="266.0" y1="319.4" x2="300.0" y2="313.9" stroke="#3c3c3c" stroke-width="1.24"/><line x1="266.0" y1="321.7" x2="300.0" y2="316.2" stroke="#3c3c3c" stroke-width="1.32"/><line x1="266.0" y1="324.0" x2="300.0" y2="318.5" stroke="#3c3c3c" stroke-width="1.4"/><path d="M280,331 Q288,326 296,327.5" stroke="#4a4a4a" stroke-width="1.1" fill="none"/><line x1="283.0" y1="347.0" x2="288.5" y2="338.5" stroke="#3a3a3a" stroke-width="1.0"/><line x1="285.6" y1="345.8" x2="291.1" y2="337.5" stroke="#3a3a3a" stroke-width="1.0"/><line x1="288.2" y1="344.6" x2="293.7" y2="336.5" stroke="#3a3a3a" stroke-width="1.0"/><line x1="290.8" y1="343.4" x2="296.3" y2="335.5" stroke="#3a3a3a" stroke-width="1.0"/><line x1="293.4" y1="342.2" x2="298.9" y2="334.5" stroke="#3a3a3a" stroke-width="1.0"/></g></g>
<path d="M395.8,225.0 L405.8,221.2 L407.2,223.8 L398.6,227.6Z" fill="#f4f4f4"/>
<path d="M401.0,231.2 L407.5,226.8 L419.2,255.5 L411.4,258.8Z" fill="#c6c6c6"/>
<path d="M411.6,261.8 L419.3,258.2 L419.3,277.6 L411.6,283.4Z" fill="#a4a4a4"/>
<path d="M411.0,218.5 C412.4,221.1 417.4,228.4 419.5,234.0 C421.6,239.6 423.0,246.3 423.8,252.0 C424.6,257.7 424.4,263.0 424.3,268.0 C424.2,273.0 423.6,279.7 423.5,282.0" stroke="#f0f0f0" stroke-width="0.9" fill="none"/>
<ellipse cx="357.3" cy="257.8" rx="45.0" ry="25.6" transform="rotate(62.2 357.3 257.8)" fill="url(#gTube)" stroke="#000" stroke-width="3.2"/>
<g transform="translate(0,3.0)"><path d="M422.5,280.9 C420.6,279.8 420.6,278.0 422.6,276.9 L493.6,236.5 C495.5,235.4 498.6,235.4 500.5,236.6 L508.7,241.4 C510.6,242.5 510.6,244.3 508.7,245.4 L437.7,285.8 C435.8,286.9 432.7,286.8 430.8,285.7Z" stroke="#000" stroke-width="1.8" fill="#000" stroke-linejoin="round" stroke-linecap="round"/></g><path d="M422.5,280.9 C420.6,279.8 420.6,278.0 422.6,276.9 L493.6,236.5 C495.5,235.4 498.6,235.4 500.5,236.6 L508.7,241.4 C510.6,242.5 510.6,244.3 508.7,245.4 L437.7,285.8 C435.8,286.9 432.7,286.8 430.8,285.7Z" stroke="#000" stroke-width="1.9" fill="#fff" stroke-linejoin="round" stroke-linecap="round"/>
<ellipse cx="441.2" cy="273.9" rx="5.3" ry="3.3" fill="#111"/><ellipse cx="441.5" cy="274.1" rx="2.3" ry="1.4" fill="#fff"/>
<ellipse cx="489.9" cy="246.2" rx="5.3" ry="3.3" fill="#111"/><ellipse cx="490.2" cy="246.4" rx="2.3" ry="1.4" fill="#fff"/>
<g transform="translate(0,0)"><path d="M112.6,318 C112,326 113.5,330.5 118.5,333 L127.6,336.8 L136.5,330 L126,322 Z" fill="#000"/><path d="M117.6,323.8 Q120.5,327.4 128.6,329.0" stroke="#fff" stroke-width="1.9" fill="none" stroke-linecap="round"/><path d="M118.4,329.8 L126,333" stroke="#ddd" stroke-width="0.9" fill="none"/><path d="M129.5,332.6 L132.5,330.4" stroke="#ddd" stroke-width="0.9" fill="none"/></g>
<g transform="translate(46.5,27.4)"><path d="M112.6,318 C112,326 113.5,330.5 118.5,333 L127.6,336.8 L136.5,330 L126,322 Z" fill="#000"/><path d="M117.6,323.8 Q120.5,327.4 128.6,329.0" stroke="#fff" stroke-width="1.9" fill="none" stroke-linecap="round"/><path d="M118.4,329.8 L126,333" stroke="#ddd" stroke-width="0.9" fill="none"/><path d="M129.5,332.6 L132.5,330.4" stroke="#ddd" stroke-width="0.9" fill="none"/></g>
<path d="M426,196 C426,203 428,207 433,210.5 L438.5,213.6 L444,210 L449,204 L436,196 Z" fill="#000"/>
<path d="M431.5,204.2 L436.5,205.4" stroke="#fff" stroke-width="1.4" fill="none" stroke-linecap="round"/>
<path d="M430.5,207.5 L439,208.6" stroke="#ddd" stroke-width="1.0" fill="none" stroke-linecap="round"/>
<g transform="translate(0,3.0)"><path d="M119.5,320.3 C110.4,315.1 110.4,306.5 119.5,301.3 L174.9,269.3 L188.2,248.3 C189.1,246.9 191.0,245.1 192.5,244.3 L353.0,151.6 L368.0,157.8 L424.9,125.0 C431.6,121.1 442.4,121.1 449.1,125.0 L502.5,155.7 C510.6,160.4 510.6,168.1 502.5,172.8 L448.2,204.1 L433.2,197.9 L270.1,292.1 L255.1,315.6 L197.0,349.1 C189.4,353.5 177.0,353.5 169.3,349.1Z" stroke="#000" stroke-width="2.4" fill="#000" stroke-linejoin="round" stroke-linecap="round"/></g>
<g transform="translate(0,5.0)"><path d="M450.8,202.6 L502.5,172.8 C510.6,168.1 514.1,162.5 510.3,160.2 L503.4,156.2" stroke="#000" stroke-width="3.4" fill="none" stroke-linejoin="round" stroke-linecap="round"/></g>
<path d="M119.5,320.3 C110.4,315.1 110.4,306.5 119.5,301.3 L174.9,269.3 L188.2,248.3 C189.1,246.9 191.0,245.1 192.5,244.3 L353.0,151.6 L368.0,157.8 L424.9,125.0 C431.6,121.1 442.4,121.1 449.1,125.0 L502.5,155.7 C510.6,160.4 510.6,168.1 502.5,172.8 L448.2,204.1 L433.2,197.9 L270.1,292.1 L255.1,315.6 L197.0,349.1 C189.4,353.5 177.0,353.5 169.3,349.1Z" stroke="#000" stroke-width="2.8" fill="url(#gPlate)" stroke-linejoin="round" stroke-linecap="round"/>
<path d="M174.9,269.3 L189.9,245.8 L270.1,292.1 L255.1,315.6Z" fill="#cfcfcf" stroke="none"/>
<path d="M189.9,245.8 L353.0,151.6 L433.2,197.9 L270.1,292.1Z" fill="url(#gRaised)" stroke="none"/>
<path d="M185.5,252.3 L189.9,245.8 L270.1,292.1 L265.7,298.6Z" fill="#dadada" stroke="none"/>
<line x1="192.5" y1="245.8" x2="270.1" y2="290.6" stroke="#fafafa" stroke-width="1.0"/>
<line x1="189.9" y1="245.8" x2="270.1" y2="292.1" stroke="#222" stroke-width="1.1" fill="none" stroke-linejoin="round" stroke-linecap="round"/>
<line x1="185.5" y1="252.3" x2="265.7" y2="298.6" stroke="#444" stroke-width="0.9" fill="none" stroke-linejoin="round" stroke-linecap="round"/>
<line x1="184.3" y1="254.2" x2="264.5" y2="300.5" stroke="#777" stroke-width="0.7" fill="none" stroke-linejoin="round" stroke-linecap="round"/>
<line x1="174.9" y1="269.3" x2="255.1" y2="315.6" stroke="#333" stroke-width="1.0" fill="none" stroke-linejoin="round" stroke-linecap="round"/>
<line x1="173.3" y1="270.2" x2="253.5" y2="316.5" stroke="#666" stroke-width="0.8" fill="none" stroke-linejoin="round" stroke-linecap="round"/>
<line x1="353.1" y1="153.1" x2="431.1" y2="198.1" stroke="#fafafa" stroke-width="0.9"/>
<line x1="353.0" y1="151.6" x2="450.4" y2="204.4" stroke="#000" stroke-width="1.4" fill="none" stroke-linejoin="round" stroke-linecap="round"/>
<path d="M119.5,320.3 C110.4,315.1 110.4,306.5 119.5,301.3 L174.9,269.3 L188.2,248.3 C189.1,246.9 191.0,245.1 192.5,244.3 L353.0,151.6 L368.0,157.8 L424.9,125.0 C431.6,121.1 442.4,121.1 449.1,125.0 L502.5,155.7 C510.6,160.4 510.6,168.1 502.5,172.8 L448.2,204.1 L433.2,197.9 L270.1,292.1 L255.1,315.6 L197.0,349.1 C189.4,353.5 177.0,353.5 169.3,349.1Z" stroke="#000" stroke-width="2.8" fill="none" stroke-linejoin="round" stroke-linecap="round"/>
<g transform="translate(0,2.25)"><path d="M109.9,314.8 L169.3,349.1 C177.0,353.5 189.4,353.5 197.0,349.1 L253.3,316.6" stroke="#fff" stroke-width="0.9" fill="none"/></g>
<g transform="translate(0,3.4)"><path d="M455.1,200.1 L502.5,172.8 C510.6,168.1 514.5,162.7 511.1,160.8 L505.1,157.2" stroke="#9a9a9a" stroke-width="0.7" fill="none"/></g>
<ellipse cx="311.2" cy="222.0" rx="40.8" ry="24.0" fill="#000"/>
<clipPath id="cHole"><ellipse cx="311.25" cy="223" rx="36.9" ry="19.5"/></clipPath>
<ellipse cx="311.2" cy="223.0" rx="36.9" ry="19.5" fill="#fff"/>
<g clip-path="url(#cHole)"><path d="M341.5,212 C336,216 330,223 326.5,232 C325,237 324.6,241 325,246 L356,246 L356,212 Z" fill="#000"/><path d="M330,239.4 C330.6,234 333,229 337.4,226 C341,224.6 345.5,224.6 348.4,226 C347.6,229.6 345,233 338.6,237 C335.6,238.6 332.6,239.4 330,239.4 Z" fill="url(#gThru)"/><path d="M337.6,221.2 C341,219.8 345,220.2 348.4,221.8" stroke="#c8c8c8" stroke-width="1.0" fill="none"/></g>
<path d="M283,207.6 C298,201.6 324,201.6 339,207.4" stroke="#5a5a5a" stroke-width="0.7" fill="none"/>
<path d="M171.0,276.0 L171.0,285.0 A9.0,5.2 0 0 0 189.0,285.0 L189.0,276.0Z" fill="url(#gScrew)" stroke="#000" stroke-width="1.7" stroke-linejoin="round"/><ellipse cx="180.0" cy="276.0" rx="9.0" ry="5.2" fill="#f2f2f2" stroke="#000" stroke-width="1.7"/><ellipse cx="180.0" cy="276.2" rx="5.0" ry="2.9" fill="#000"/><ellipse cx="180.0" cy="276.5" rx="3.5" ry="1.8" fill="#6a6a6a"/><ellipse cx="180.4" cy="276.6" rx="1.1" ry="1.6" fill="#c4c4c4"/>
<path d="M123.4,304.4 L123.4,313.4 A9.0,5.2 0 0 0 141.4,313.4 L141.4,304.4Z" fill="url(#gScrew)" stroke="#000" stroke-width="1.7" stroke-linejoin="round"/><ellipse cx="132.4" cy="304.4" rx="9.0" ry="5.2" fill="#f2f2f2" stroke="#000" stroke-width="1.7"/><ellipse cx="132.4" cy="304.6" rx="5.0" ry="2.9" fill="#000"/><ellipse cx="132.4" cy="304.9" rx="3.5" ry="1.8" fill="#6a6a6a"/><ellipse cx="132.8" cy="305.0" rx="1.1" ry="1.6" fill="#c4c4c4"/>
<path d="M219.0,304.4 L219.0,313.4 A9.0,5.2 0 0 0 237.0,313.4 L237.0,304.4Z" fill="url(#gScrew)" stroke="#000" stroke-width="1.7" stroke-linejoin="round"/><ellipse cx="228.0" cy="304.4" rx="9.0" ry="5.2" fill="#f2f2f2" stroke="#000" stroke-width="1.7"/><ellipse cx="228.0" cy="304.6" rx="5.0" ry="2.9" fill="#000"/><ellipse cx="228.0" cy="304.9" rx="3.5" ry="1.8" fill="#6a6a6a"/><ellipse cx="228.4" cy="305.0" rx="1.1" ry="1.6" fill="#c4c4c4"/>
<path d="M171.0,332.0 L171.0,341.0 A9.0,5.2 0 0 0 189.0,341.0 L189.0,332.0Z" fill="url(#gScrew)" stroke="#000" stroke-width="1.7" stroke-linejoin="round"/><ellipse cx="180.0" cy="332.0" rx="9.0" ry="5.2" fill="#f2f2f2" stroke="#000" stroke-width="1.7"/><ellipse cx="180.0" cy="332.2" rx="5.0" ry="2.9" fill="#000"/><ellipse cx="180.0" cy="332.5" rx="3.5" ry="1.8" fill="#6a6a6a"/><ellipse cx="180.4" cy="332.6" rx="1.1" ry="1.6" fill="#c4c4c4"/>
<path d="M434.0,125.0 L434.0,134.0 A9.0,5.2 0 0 0 452.0,134.0 L452.0,125.0Z" fill="url(#gScrew)" stroke="#000" stroke-width="1.7" stroke-linejoin="round"/><ellipse cx="443.0" cy="125.0" rx="9.0" ry="5.2" fill="#f2f2f2" stroke="#000" stroke-width="1.7"/><ellipse cx="443.0" cy="125.2" rx="5.0" ry="2.9" fill="#000"/><ellipse cx="443.0" cy="125.5" rx="3.5" ry="1.8" fill="#6a6a6a"/><ellipse cx="443.4" cy="125.6" rx="1.1" ry="1.6" fill="#c4c4c4"/>
<path d="M385.4,152.4 L385.4,161.4 A9.0,5.2 0 0 0 403.4,161.4 L403.4,152.4Z" fill="url(#gScrew)" stroke="#000" stroke-width="1.7" stroke-linejoin="round"/><ellipse cx="394.4" cy="152.4" rx="9.0" ry="5.2" fill="#f2f2f2" stroke="#000" stroke-width="1.7"/><ellipse cx="394.4" cy="152.6" rx="5.0" ry="2.9" fill="#000"/><ellipse cx="394.4" cy="152.9" rx="3.5" ry="1.8" fill="#6a6a6a"/><ellipse cx="394.8" cy="153.0" rx="1.1" ry="1.6" fill="#c4c4c4"/>
<path d="M480.0,152.4 L480.0,161.4 A9.0,5.2 0 0 0 498.0,161.4 L498.0,152.4Z" fill="url(#gScrew)" stroke="#000" stroke-width="1.7" stroke-linejoin="round"/><ellipse cx="489.0" cy="152.4" rx="9.0" ry="5.2" fill="#f2f2f2" stroke="#000" stroke-width="1.7"/><ellipse cx="489.0" cy="152.6" rx="5.0" ry="2.9" fill="#000"/><ellipse cx="489.0" cy="152.9" rx="3.5" ry="1.8" fill="#6a6a6a"/><ellipse cx="489.4" cy="153.0" rx="1.1" ry="1.6" fill="#c4c4c4"/>
<path d="M433.5,179.8 L433.5,188.8 A9.0,5.2 0 0 0 451.5,188.8 L451.5,179.8Z" fill="url(#gScrew)" stroke="#000" stroke-width="1.7" stroke-linejoin="round"/><ellipse cx="442.5" cy="179.8" rx="9.0" ry="5.2" fill="#f2f2f2" stroke="#000" stroke-width="1.7"/><ellipse cx="442.5" cy="180.0" rx="5.0" ry="2.9" fill="#000"/><ellipse cx="442.5" cy="180.3" rx="3.5" ry="1.8" fill="#6a6a6a"/><ellipse cx="442.9" cy="180.4" rx="1.1" ry="1.6" fill="#c4c4c4"/>
<line x1="18.5" y1="258.5" x2="161.0" y2="176.5" stroke="#000" stroke-width="1.2" fill="none"/>
<line x1="207.5" y1="149.3" x2="347.5" y2="68.5" stroke="#000" stroke-width="1.2" fill="none"/>
<path d="M18.5,258.5 L35.5,244.0 L39.5,250.9Z" fill="#000"/>
<path d="M347.5,68.5 L330.5,83.0 L326.5,76.1Z" fill="#000"/>
<line x1="7.5" y1="252.2" x2="112.0" y2="312.0" stroke="#000" stroke-width="1.2" fill="none"/>
<line x1="338.5" y1="61.8" x2="438.5" y2="120.0" stroke="#000" stroke-width="1.2" fill="none"/>
<path d="M345,131 H311 V180" stroke="#000" stroke-width="1.2" fill="none"/>
<path d="M311.0,199.0 L307.0,177.0 L315.0,177.0Z" fill="#000"/>
<path d="M594.5,178 H544 L500,201.4" stroke="#000" stroke-width="1.2" fill="none"/>
<path d="M482.0,211.0 L499.5,197.1 L503.3,204.2Z" fill="#000"/>
<line x1="33.0" y1="359.8" x2="125.0" y2="359.8" stroke="#000" stroke-width="1.2" fill="none"/>
<path d="M143.0,359.8 L121.0,363.8 L121.0,355.8Z" fill="#000"/>
<path d="M472,415.5 H423.3 L296.3,343.8 M423.3,415.5 L381,300.3" stroke="#000" stroke-width="1.2" fill="none"/>
<path d="M296.3,343.8 L317.4,351.1 L313.5,358.1Z" fill="#000"/>
<path d="M381.0,300.3 L392.3,319.6 L384.8,322.3Z" fill="#000"/>
<path d="M172.9,151.5 V174.1 H181.8" stroke="#000" stroke-width="2.0" fill="none" stroke-linecap="butt" stroke-linejoin="miter"/>
<path d="M37.3,332.7 H42.6 A9.8,9.8 0 0 1 42.6,352.3 H37.3 Z" stroke="#000" stroke-width="2.0" fill="none" stroke-linecap="butt" stroke-linejoin="miter"/>
<path d="M575,151 H581 A10,10 0 0 1 581,171 H575 Z" stroke="#000" stroke-width="2.0" fill="none" stroke-linecap="butt" stroke-linejoin="miter"/>
<path d="M466.6,391 A10.5,10.7 0 1 0 469.3,399.3 H460" stroke="#000" stroke-width="2.0" fill="none" stroke-linecap="butt" stroke-linejoin="miter"/>
<path d="M341.6,100.5 V126 M341.6,118.7 A6.6,6.8 0 1 0 341.6,118.71" stroke="#000" stroke-width="2.0" fill="none" stroke-linecap="butt" stroke-linejoin="miter"/>
</svg>
<div id="frame"></div>
<div id="foot">Copyright © - Teseo srl - All Rights Reserved - teseoair.it</div>
</body></html>
